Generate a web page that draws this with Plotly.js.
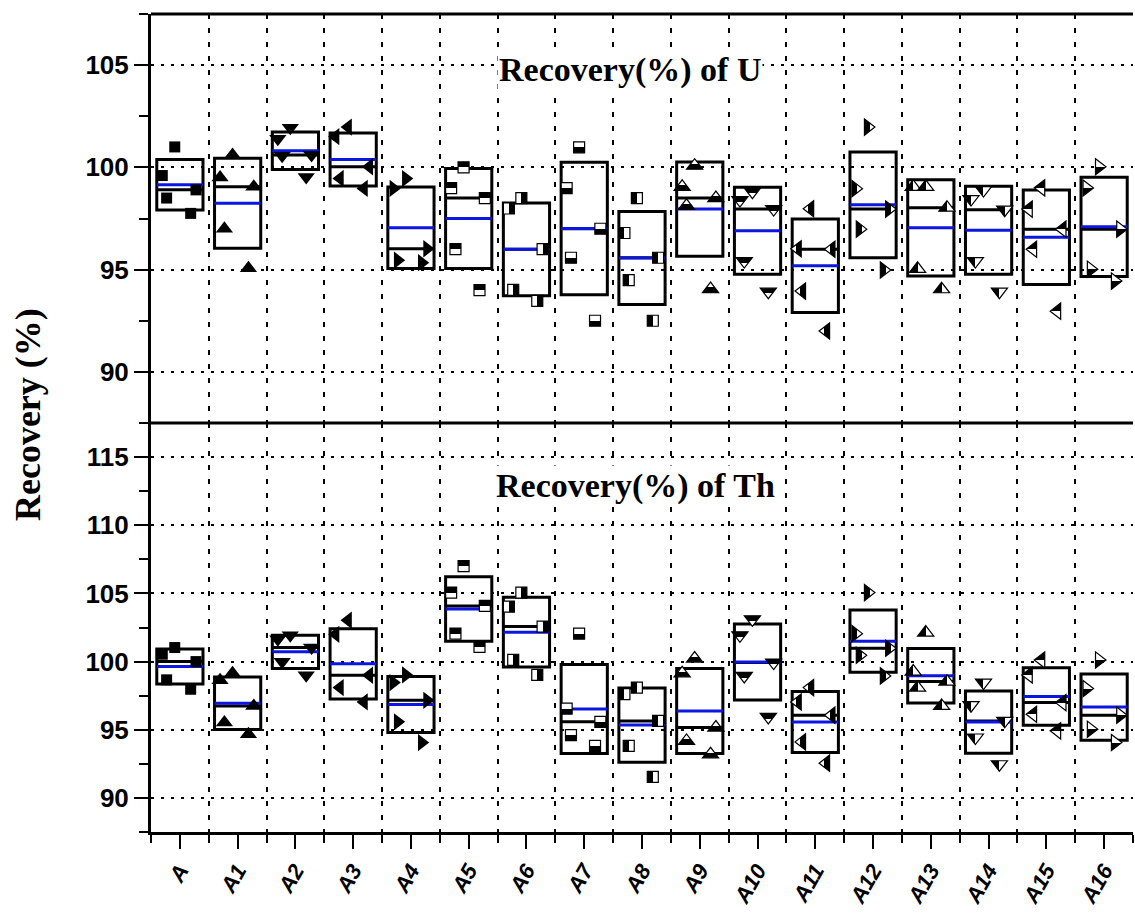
<!DOCTYPE html>
<html>
<head>
<meta charset="utf-8">
<script src="https://cdn.plot.ly/plotly-3.0.1.min.js"></script>
<style>
  html, body { margin: 0; padding: 0; background: #fff; }
  #chart { width: 1135px; height: 915px; }
</style>
</head>
<body>
<!-- hard-edged half fills for the half-filled marker symbols -->
<svg width="0" height="0" style="position:absolute">
  <defs>
    <linearGradient id="half-top" x1="0" y1="0" x2="0" y2="1"><stop offset="0.5" stop-color="#000"/><stop offset="0.5" stop-color="#fff"/></linearGradient>
    <linearGradient id="half-bottom" x1="0" y1="0" x2="0" y2="1"><stop offset="0.5" stop-color="#fff"/><stop offset="0.5" stop-color="#000"/></linearGradient>
    <linearGradient id="half-left" x1="0" y1="0" x2="1" y2="0"><stop offset="0.5" stop-color="#000"/><stop offset="0.5" stop-color="#fff"/></linearGradient>
    <linearGradient id="half-right" x1="0" y1="0" x2="1" y2="0"><stop offset="0.5" stop-color="#fff"/><stop offset="0.5" stop-color="#000"/></linearGradient>
  </defs>
</svg>
<div id="chart"></div>
<script>
// Sample names
const categories = ['A', 'A1', 'A2', 'A3', 'A4', 'A5', 'A6', 'A7', 'A8',
                    'A9', 'A10', 'A11', 'A12', 'A13', 'A14', 'A15', 'A16'];

// Recovery (%) of U, replicate measurements per sample
const uRecovery = [
  [101.0, 99.6, 98.5, 97.75, 98.9],
  [100.6, 99.5, 99.05, 97.0, 95.07],
  [101.94, 101.4, 100.57, 100.6, 99.53],
  [101.97, 101.5, 100.03, 99.46, 98.97],
  [99.45, 98.97, 96.02, 95.46, 95.34],
  [100.0, 98.99, 98.5, 96.0, 94.0],
  [98.5, 97.99, 96.0, 94.01, 93.47],
  [100.98, 98.99, 97.0, 95.58, 92.5],
  [98.5, 96.79, 95.58, 94.49, 92.5],
  [100.08, 99.05, 98.5, 98.12, 94.05],
  [98.81, 98.4, 97.96, 95.42, 93.92],
  [97.98, 96.02, 96.0, 93.95, 92.0],
  [101.97, 98.96, 97.96, 96.98, 94.98],
  [99.05, 99.05, 98.03, 95.04, 94.04],
  [98.89, 98.45, 97.93, 95.42, 93.92],
  [99.0, 97.96, 96.98, 96.0, 92.97],
  [100.03, 98.99, 96.98, 95.02, 94.44]
];

// Recovery (%) of Th, replicate measurements per sample
const thRecovery = [
  [101.03, 100.54, 100.0, 98.66, 97.97],
  [99.14, 98.63, 96.75, 95.53, 94.67],
  [101.64, 101.93, 101.03, 99.98, 99.0],
  [103.03, 102.0, 99.0, 98.09, 97.04],
  [99.02, 98.46, 97.16, 95.58, 94.06],
  [107.0, 105.06, 104.08, 102.05, 101.08],
  [105.06, 104.03, 102.57, 100.12, 99.02],
  [102.05, 96.55, 95.58, 94.6, 93.82],
  [98.09, 97.61, 95.65, 93.82, 91.54],
  [100.22, 99.14, 95.16, 94.18, 93.2],
  [103.1, 101.93, 99.93, 98.95, 95.94],
  [98.09, 97.04, 96.07, 94.11, 92.55],
  [105.06, 102.05, 100.98, 100.46, 98.95],
  [102.13, 99.27, 98.53, 98.09, 96.75],
  [98.46, 96.8, 95.65, 94.43, 92.47],
  [100.12, 99.02, 96.99, 96.14, 94.92],
  [100.12, 98.02, 96.07, 95.04, 94.06]
];

// Marker style per sample: symbol and which half is filled (null = solid)
const markerSymbols = ['square', 'triangle-up', 'triangle-down', 'triangle-left', 'triangle-right',
                       'square', 'square', 'square', 'square',
                       'triangle-up', 'triangle-down', 'triangle-left', 'triangle-right',
                       'triangle-up', 'triangle-down', 'triangle-left', 'triangle-right'];
const markerHalves = [null, null, null, null, null,
                      'top', 'right', 'bottom', 'left',
                      'bottom', 'top', 'right', 'left',
                      'left', 'left', 'top', 'bottom'];

// placeholder fills, swapped for the half-fill gradients once drawn
const halfPlaceholder = { top: [1, 1, 1], bottom: [2, 2, 2], left: [3, 3, 3], right: [4, 4, 4] };

function mean(a) { return a.reduce((s, v) => s + v, 0) / a.length; }
function stdev(a) {
  const m = mean(a);
  return Math.sqrt(a.reduce((s, v) => s + (v - m) * (v - m), 0) / (a.length - 1));
}
function median(a) {
  const s = a.slice().sort((p, q) => p - q);
  const k = Math.floor(s.length / 2);
  return s.length % 2 ? s[k] : (s[k - 1] + s[k]) / 2;
}

const positions = categories.map((_, i) => i);

function panelTraces(values, yaxis) {
  const m = values.map(mean);
  const sd = values.map(stdev);
  const md = values.map(median);
  const lo = m.map((v, i) => v - sd[i]);
  const hi = m.map((v, i) => v + sd[i]);
  const traces = [];
  // box = mean ± 1 SD, black line = median
  traces.push({
    type: 'box', x: positions, q1: lo, median: md, q3: hi, lowerfence: lo, upperfence: hi,
    width: 0.8, whiskerwidth: 0, boxpoints: false,
    line: { color: '#000', width: 3 }, fillcolor: 'rgba(0,0,0,0)',
    xaxis: 'x', yaxis: yaxis, hoverinfo: 'skip', showlegend: false
  });
  // blue line = mean
  traces.push({
    type: 'box', x: positions, q1: m, median: m, q3: m, lowerfence: m, upperfence: m,
    width: 0.8, whiskerwidth: 0, boxpoints: false,
    line: { color: '#0b16e0', width: 3 }, fillcolor: 'rgba(0,0,0,0)',
    xaxis: 'x', yaxis: yaxis, hoverinfo: 'skip', showlegend: false
  });
  // individual measurements
  values.forEach((vals, i) => {
    const half = markerHalves[i];
    const isTri = markerSymbols[i].indexOf('triangle') === 0;
    traces.push({
      type: 'box', name: categories[i], x: vals.map(() => i), y: vals,
      boxpoints: 'all', jitter: 0.9, pointpos: 0, width: 0.8,
      line: { color: 'rgba(0,0,0,0)', width: 0 }, fillcolor: 'rgba(0,0,0,0)',
      marker: {
        symbol: markerSymbols[i],
        size: isTri ? (half ? 14 : 15) : 11,
        color: half ? 'rgb(' + halfPlaceholder[half].join(',') + ')' : '#000',
        line: { color: '#000', width: half ? 1.2 : 0 }
      },
      hoveron: 'points', xaxis: 'x', yaxis: yaxis, showlegend: false
    });
  });
  return traces;
}

const data = panelTraces(uRecovery, 'y2').concat(panelTraces(thRecovery, 'y'));

const tickFont = { family: 'Liberation Sans, Arial, sans-serif', size: 26, color: '#000', weight: 'bold' };
const serifBold = { family: 'Liberation Serif, Times New Roman, serif', color: '#000', weight: 'bold' };

function yAxis(domain, range) {
  return {
    domain: domain, range: range, anchor: 'x',
    tickmode: 'linear', tick0: 0, dtick: 5,
    ticks: 'outside', ticklen: 14, tickwidth: 2, tickcolor: '#000',
    tickfont: tickFont,
    showline: true, linewidth: 3, linecolor: '#000', zeroline: false,
    showgrid: true, gridcolor: '#000', gridwidth: 2, griddash: '3px,7px',
    minor: { tickmode: 'linear', tick0: 0, dtick: 2.5, ticks: 'outside', ticklen: 9,
             tickwidth: 2, tickcolor: '#000', showgrid: false }
  };
}

const layout = {
  width: 1135, height: 915,
  margin: { l: 151, r: 2, t: 14, b: 83 },
  paper_bgcolor: '#fff', plot_bgcolor: '#fff',
  boxmode: 'overlay', showlegend: false,
  xaxis: {
    range: [-0.5, 16.5], tickmode: 'array', tickvals: positions, ticktext: categories,
    tickangle: -60, ticks: 'outside', ticklen: 14, tickwidth: 2, tickcolor: '#000',
    tickfont: { family: 'Liberation Sans, Arial, sans-serif', size: 22, color: '#000', weight: 'bold', style: 'italic' },
    showline: true, linewidth: 3, linecolor: '#000', zeroline: false, showgrid: false,
    minor: { tickmode: 'linear', tick0: 0.5, dtick: 1, ticks: 'outside', ticklen: 8,
             tickwidth: 2, tickcolor: '#000',
             showgrid: true, gridcolor: '#000', gridwidth: 2, griddash: '5px,9px' }
  },
  yaxis: yAxis([0, 0.5], [87.5, 117.5]),
  yaxis2: yAxis([0.5, 1], [87.5, 107.5]),
  shapes: [
    { type: 'line', xref: 'paper', yref: 'paper', x0: 0, x1: 1, y0: 1, y1: 1, line: { color: '#000', width: 3 } },
    { type: 'line', xref: 'paper', yref: 'paper', x0: 0, x1: 1, y0: 0.5, y1: 0.5, line: { color: '#000', width: 3 } }
  ],
  annotations: [
    { text: 'Recovery(%) of U', xref: 'paper', yref: 'paper', x: 0.488, y: 0.9315,
      xanchor: 'center', yanchor: 'middle', showarrow: false, bgcolor: '#fff',
      font: Object.assign({ size: 34 }, serifBold) },
    { text: 'Recovery(%) of Th', xref: 'paper', yref: 'paper', x: 0.493, y: 0.423,
      xanchor: 'center', yanchor: 'middle', showarrow: false, bgcolor: '#fff',
      font: Object.assign({ size: 34 }, serifBold) },
    { text: 'Recovery (%)', xref: 'paper', yref: 'paper', x: -0.125, y: 0.51,
      xanchor: 'center', yanchor: 'middle', textangle: -90, showarrow: false,
      font: Object.assign({ size: 36 }, serifBold) }
  ]
};

Plotly.newPlot('chart', data, layout, { displayModeBar: false, staticPlot: true }).then(function (gd) {
  const sides = Object.keys(halfPlaceholder);
  gd.querySelectorAll('path.point').forEach(function (p) {
    const nums = (p.style.fill || '').match(/\d+/g);
    if (!nums || nums.length < 3) return;
    sides.forEach(function (side) {
      const c = halfPlaceholder[side];
      if (+nums[0] === c[0] && +nums[1] === c[1] && +nums[2] === c[2]) {
        p.style.fill = 'url(#half-' + side + ')';
      }
    });
  });
});
</script>
</body>
</html>
